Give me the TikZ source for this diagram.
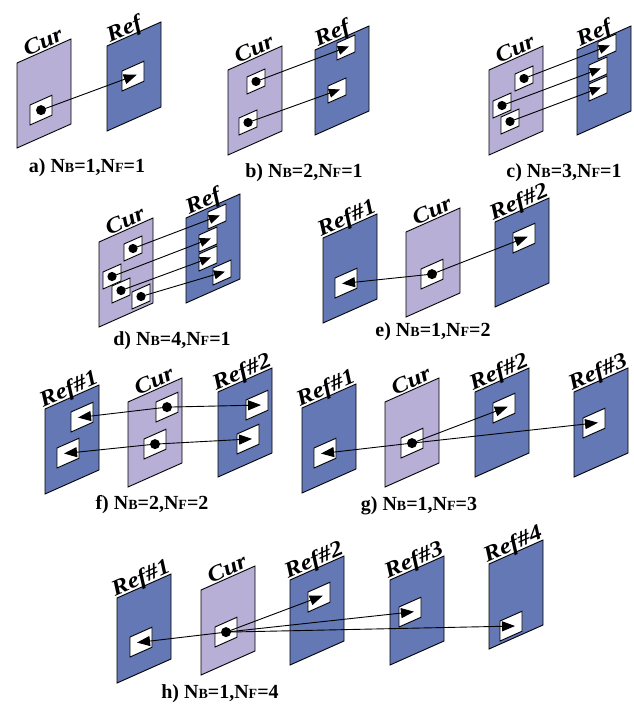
\documentclass[tikz,border=0pt]{standalone}
\usepackage{fontspec}
\setmainfont{Liberation Serif}
\usetikzlibrary{arrows.meta}
\definecolor{curc}{RGB}{183,175,214}
\definecolor{refc}{RGB}{99,120,180}
\tikzset{
  frm/.style={draw=black, line width=0.9pt, line join=miter},
  curframe/.style={frm, fill=curc},
  refframe/.style={frm, fill=refc},
  blk/.style={draw=black, fill=white, line width=0.9pt},
  lbl/.style={font=\fontsize{22}{22}\selectfont\bfseries\itshape, rotate=23.96, xscale=1.15, anchor=base west, inner sep=0pt},
  captxt/.style={font=\fontsize{20}{20}\selectfont\bfseries, inner sep=0pt},
  mvbig/.style={line width=0.9pt, -{Triangle[length=13pt,width=10pt]}, shorten >=-4pt},
  mvsmall/.style={line width=0.9pt, -{Triangle[length=11pt,width=9pt]}, shorten >=-3pt},
}
\newcommand\Frm[6]{% name, style, x, y (bottom-left), label, label offset
  \draw[#2] (#3,#4) -- ++(54,-24) -- ++(0,-85) -- ++(-54,24) -- cycle;
  \node[lbl] (#1) at ({#3+#6},{#4-85-0.444*#6-2}) {#5};}
\newcommand\Bx[5]{% name, x, y (bottom-left), w, h
  \draw[blk] (#2,#3) -- ++({#4},{-0.444*#4}) -- ++(0,{-#5}) -- ++({-#4},{0.444*#4}) -- cycle;
  \coordinate (#1) at ({#2+#4/2},{#3-#5/2-0.222*#4});}
\newcommand\Mv[2]{\draw[mvbig] (#1) -- (#2);}
\newcommand\Mvs[2]{\draw[mvsmall] (#1) -- (#2);}
\newcommand\Dt[1]{\fill (#1) circle (5pt);}
\newcommand\Dts[1]{\fill (#1) circle (4.6pt);}
\newcommand\smc[1]{{\fontsize{14}{14}\selectfont #1}}
\newcommand\Cap[4]{#1) N\smc{B}=#2,N\smc{F}=#3}
\begin{document}
\begin{tikzpicture}[x=1pt,y=-1pt]
\useasboundingbox (0,0) rectangle (633,708);
% ---- a)
\Frm{acl}{curframe}{17}{148}{Cur}{10}
\Frm{arl}{refframe}{107}{131}{Ref}{3}
\Bx{ac1}{30}{125}{22}{20}
\Bx{ar1}{122}{91}{22}{20}
\Mv{ac1}{ar1}\Dt{ac1}
\node[captxt] (capa) at (87,168) {\Cap{a}{1}{1}{}};
% ---- b)
\Frm{bcl}{curframe}{228}{155}{Cur}{10}
\Frm{brl}{refframe}{315}{135}{Ref}{3}
\Bx{bc1}{247}{94}{18}{17}
\Bx{bc2}{239}{135}{18}{17}
\Bx{br1}{337}{60}{18}{17}
\Bx{br2}{328}{103}{18}{17}
\Mvs{bc1}{br1}\Mvs{bc2}{br2}\Dts{bc1}\Dts{bc2}
\node[captxt] (capb) at (304,173) {\Cap{b}{2}{1}{}};
% ---- c)
\Frm{ccl}{curframe}{489}{155}{Cur}{10}
\Frm{crl}{refframe}{577}{135}{Ref}{3}
\Bx{cc1}{515}{91}{18}{17}
\Bx{cc2}{493}{118}{18}{17}
\Bx{cc3}{501}{134}{18}{17}
\Bx{cr1}{598}{59}{18}{17}
\Bx{cr2}{589}{82}{18}{17}
\Bx{cr3}{589}{101}{18}{17}
\Mvs{cc1}{cr1}\Mvs{cc2}{cr2}\Mvs{cc3}{cr3}\Dts{cc1}\Dts{cc2}\Dts{cc3}
\node[captxt] (capc) at (564,173) {\Cap{c}{3}{1}{}};
% ---- d)
\Frm{dcl}{curframe}{99}{327}{Cur}{10}
\Frm{drl}{refframe}{186}{303}{Ref}{3}
\Bx{dc1}{124}{261}{18}{17}
\Bx{dc2}{103}{289}{18}{17}
\Bx{dc3}{112}{303}{18}{17}
\Bx{dc4}{132}{309}{18}{17}
\Bx{dr1}{208}{229}{18}{17}
\Bx{dr2}{199}{252}{18}{17}
\Bx{dr3}{199}{271}{18}{17}
\Bx{dr4}{213}{285}{18}{17}
\Mvs{dc1}{dr1}\Mvs{dc2}{dr2}\Mvs{dc3}{dr3}\Mvs{dc4}{dr4}
\Dts{dc1}\Dts{dc2}\Dts{dc3}\Dts{dc4}
\node[captxt] (capd) at (172,341) {\Cap{d}{4}{1}{}};
% ---- e)
\Frm{er1l}{refframe}{323}{323}{Ref\#1}{-2}
\Frm{ecl}{curframe}{406}{317}{Cur}{10}
\Frm{er2l}{refframe}{495}{307}{Ref\#2}{-2}
\Bx{ec1}{421}{289}{22}{20}
\Bx{ea1}{335}{298}{22}{20}
\Bx{eb1}{513}{253}{22}{20}
\Mv{ec1}{ea1}\Mv{ec1}{eb1}\Dt{ec1}
\node[captxt] (cape) at (433,332) {\Cap{e}{1}{2}{}};
% ---- f)
\Frm{fr1l}{refframe}{45}{494}{Ref\#1}{-2}
\Frm{fcl}{curframe}{128}{487}{Cur}{10}
\Frm{fr2l}{refframe}{218}{477}{Ref\#2}{-2}
\Bx{fa1}{71}{432}{22}{20}
\Bx{fa2}{57}{468}{22}{20}
\Bx{fc1}{156}{422}{22}{20}
\Bx{fc2}{144}{459}{22}{20}
\Bx{fb1}{246}{420}{22}{20}
\Bx{fb2}{237}{454}{22}{20}
\Mv{fc1}{fa1}\Mv{fc1}{fb1}\Mv{fc2}{fa2}\Mv{fc2}{fb2}\Dt{fc1}\Dt{fc2}
\node[captxt] (capf) at (152,505) {\Cap{f}{2}{2}{}};
% ---- g)
\Frm{gr1l}{refframe}{302}{493}{Ref\#1}{-2}
\Frm{gcl}{curframe}{385}{487}{Cur}{10}
\Frm{gr2l}{refframe}{475}{477}{Ref\#2}{-2}
\Frm{gr3l}{refframe}{574}{477}{Ref\#3}{-2}
\Bx{gc1}{401}{458}{22}{20}
\Bx{ga1}{314}{468}{22}{20}
\Bx{gb1}{493}{423}{22}{20}
\Bx{gd1}{583}{438}{22}{20}
\Mv{gc1}{ga1}\Mv{gc1}{gb1}\Mv{gc1}{gd1}\Dt{gc1}
\node[captxt] (capg) at (419,506) {\Cap{g}{1}{3}{}};
% ---- h)
\Frm{hr1l}{refframe}{117}{683}{Ref\#1}{-2}
\Frm{hcl}{curframe}{201}{675}{Cur}{10}
\Frm{hr2l}{refframe}{290}{665}{Ref\#2}{-2}
\Frm{hr3l}{refframe}{390}{665}{Ref\#3}{-2}
\Frm{hr4l}{refframe}{489}{649}{Ref\#4}{-2}
\Bx{hc1}{215}{647}{22}{20}
\Bx{ha1}{130}{657}{22}{20}
\Bx{hb1}{308}{612}{22}{20}
\Bx{hd1}{399}{627}{22}{20}
\Bx{he1}{500}{641}{22}{20}
\Mv{hc1}{ha1}\Mv{hc1}{hb1}\Mv{hc1}{hd1}\Mv{hc1}{he1}\Dt{hc1}
\node[captxt] (caph) at (220,694) {\Cap{h}{1}{4}{}};
\end{tikzpicture}
\end{document}
